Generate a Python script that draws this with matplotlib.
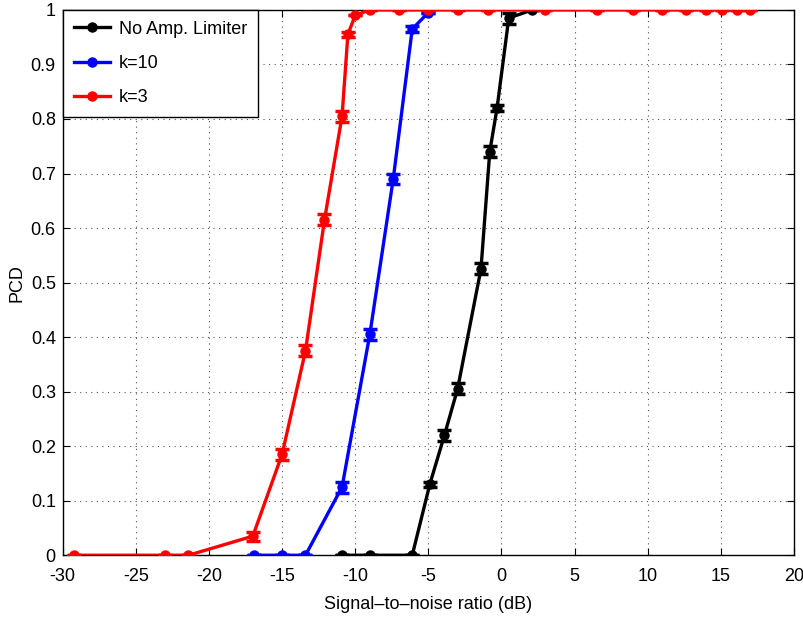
import matplotlib
matplotlib.use("Agg")
import matplotlib.pyplot as plt

# ====== datos ======
snr_none = [-10.9, -9.0, -6.1, -4.9, -3.9, -3.0, -1.4, -0.8, -0.3, 0.5, 2.1]
pcd_none = [0.0, 0.0, 0.0, 0.13, 0.22, 0.305, 0.525, 0.74, 0.82, 0.985, 1.0]
err_none = [0.0, 0.0, 0.0, 0.005, 0.01, 0.01, 0.01, 0.01, 0.005, 0.01, 0.0]

snr_k10 = [-16.9, -15.0, -13.4, -10.9, -9.0, -7.4, -6.1, -5.0]
pcd_k10 = [0.0, 0.0, 0.0, 0.125, 0.405, 0.69, 0.965, 0.995]
err_k10 = [0.0, 0.0, 0.0, 0.01, 0.01, 0.01, 0.005, 0.0]

snr_k3 = [-29.2, -23.0, -21.4, -17.0, -15.0, -13.4, -12.1, -10.9, -10.5, -10.0,
          -9.0, -7.0, -5.0, -3.0, -0.9, 3.0, 6.5, 9.0, 11.0, 12.6, 14.0, 15.1,
          16.1, 17.0]
pcd_k3 = [0.0, 0.0, 0.0, 0.035, 0.185, 0.375, 0.615, 0.805, 0.955, 0.99,
          1.0, 1.0, 1.0, 1.0, 1.0, 1.0, 1.0, 1.0, 1.0, 1.0, 1.0, 1.0, 1.0, 1.0]
err_k3 = [0.0, 0.0, 0.0, 0.008, 0.01, 0.01, 0.01, 0.01, 0.005, 0.0,
          0, 0, 0, 0, 0, 0, 0, 0, 0, 0, 0, 0, 0, 0]

labels = ["No Amp. Limiter", "k=10", "k=3"]
x_ticks = [-30, -25, -20, -15, -10, -5, 0, 5, 10, 15, 20]
y_ticks = [0, 0.1, 0.2, 0.3, 0.4, 0.5, 0.6, 0.7, 0.8, 0.9, 1]
y_ticklabels = ["0", "0.1", "0.2", "0.3", "0.4", "0.5", "0.6", "0.7", "0.8", "0.9", "1"]

plt.rcParams["font.family"] = ["Liberation Sans", "DejaVu Sans"]

fig = plt.figure(figsize=(8.04, 6.19), dpi=100)
ax = fig.add_axes([0.078, 0.103, 0.9095, 0.881])

series = [
    (snr_none, pcd_none, err_none, "black"),
    (snr_k10, pcd_k10, err_k10, "blue"),
    (snr_k3, pcd_k3, err_k3, "red"),
]
handles = []
for (x, y, e, c), lab in zip(series, labels):
    ax.errorbar(x, y, yerr=e, fmt="none", ecolor=c, elinewidth=2.5,
                capsize=5, capthick=2.5, zorder=3)
    h, = ax.plot(x, y, "-", color=c, lw=2.4, marker="o", ms=6.5,
                 label=lab, zorder=4)
    handles.append(h)

ax.set_xlim(-30, 20)
ax.set_ylim(0, 1)
ax.set_xticks(x_ticks)
ax.set_xticklabels([str(t) for t in x_ticks])
ax.set_yticks(y_ticks)
ax.set_yticklabels(y_ticklabels)
ax.tick_params(direction="in", top=True, right=True, labelsize=13, length=5)
ax.tick_params(axis="x", pad=9)
ax.tick_params(axis="y", pad=5)
ax.grid(True, linestyle=(0, (1, 4)), color="#555555", lw=0.8)
for s in ax.spines.values():
    s.set_linewidth(1.0)

ax.set_xlabel("Signal\u2013to\u2013noise ratio (dB)", fontsize=13, labelpad=8)
ax.set_ylabel("PCD", fontsize=13)

leg = ax.legend(handles=handles, loc="upper left", borderaxespad=0,
                fancybox=False, framealpha=1, edgecolor="black",
                fontsize=13, handlelength=2.0, labelspacing=0.95,
                borderpad=0.6, handletextpad=0.5)
leg.get_frame().set_linewidth(1.0)

fig.savefig("out.png", dpi=100)
